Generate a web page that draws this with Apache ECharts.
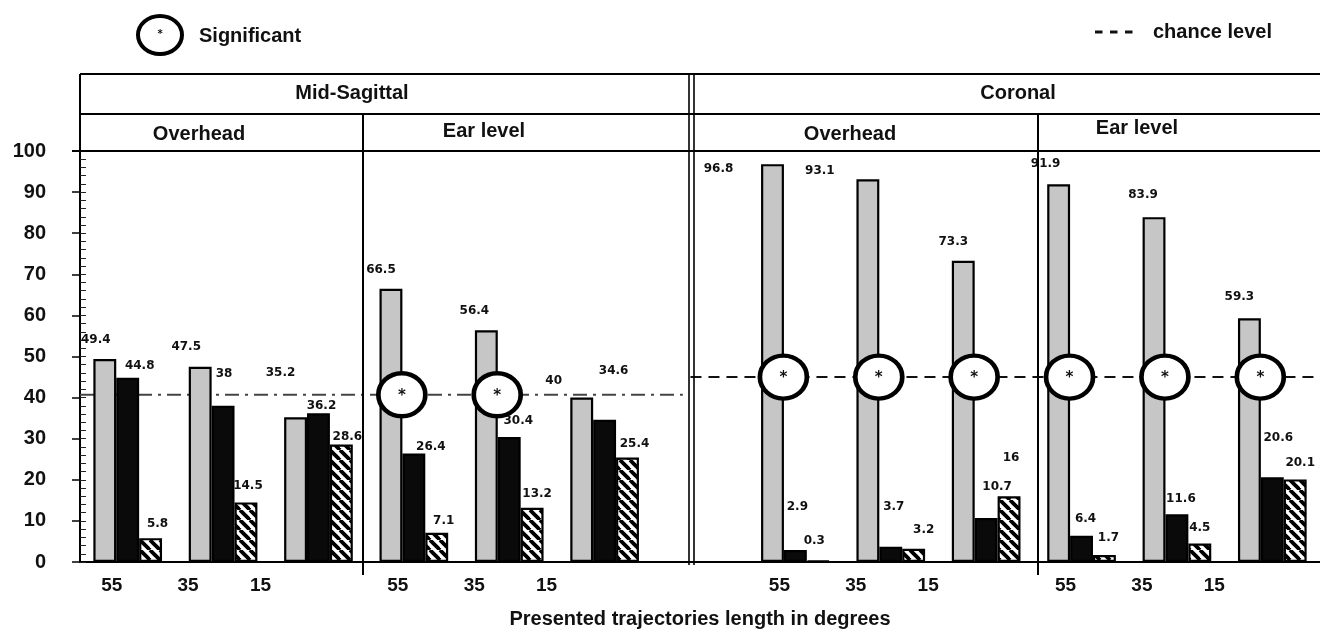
<!DOCTYPE html>
<html>
<head>
<meta charset="utf-8">
<script src="https://cdn.jsdelivr.net/npm/echarts@6/dist/echarts.min.js"></script>
<style>
  html, body { margin: 0; padding: 0; background: #fff; }
  #chart { width: 1320px; height: 634px; }
</style>
</head>
<body>
<div id="chart"></div>
<script>
// Trajectory lengths (degrees) shown under every panel
const lengths = ['55', '35', '15'];

// Mid-Sagittal plane, overhead / ear level
const msOverheadGrey  = [49.4, 47.5, 35.2];
const msOverheadBlack = [44.8, 38, 36.2];
const msOverheadHatch = [5.8, 14.5, 28.6];
const msEarGrey  = [66.5, 56.4, 40];
const msEarBlack = [26.4, 30.4, 34.6];
const msEarHatch = [7.1, 13.2, 25.4];

// Coronal plane, overhead / ear level
const corOverheadGrey  = [96.8, 93.1, 73.3];
const corOverheadBlack = [2.9, 3.7, 10.7];
const corOverheadHatch = [0.3, 3.2, 16];
const corEarGrey  = [91.9, 83.9, 59.3];
const corEarBlack = [6.4, 11.6, 20.6];
const corEarHatch = [1.7, 4.5, 20.1];

// Chance levels per plane
const chanceMidSagittal = 40.7;
const chanceCoronal = 45;

// Significance flags per panel (one per trajectory length)
const msOverheadSig  = [false, false, false];
const msEarSig       = [true, true, false];
const corOverheadSig = [true, true, true];
const corEarSig      = [true, true, true];

const yTicks = { min: 0, max: 100, step: 10 };

// ---- layout: 6 Mid-Sagittal slots, one spacer slot, 6 Coronal slots ----
const GAP = '-';
const join = (a, b, c, d) => [...a, ...b, GAP, ...c, ...d];
const greyData  = join(msOverheadGrey, msEarGrey, corOverheadGrey, corEarGrey);
const blackData = join(msOverheadBlack, msEarBlack, corOverheadBlack, corEarBlack);
const hatchData = join(msOverheadHatch, msEarHatch, corOverheadHatch, corEarHatch);

const categories = [];
['mso', 'mse'].forEach(p => lengths.forEach(l => categories.push(p + '|' + l)));
categories.push('gap|');
['coo', 'coe'].forEach(p => lengths.forEach(l => categories.push(p + '|' + l)));

const sigFlags = [...msOverheadSig, ...msEarSig, null, ...corOverheadSig, ...corEarSig];
const sigPoints = [];
sigFlags.forEach((f, i) => {
  if (f) sigPoints.push([i + 0.5, i < 6 ? chanceMidSagittal : chanceCoronal]);
});

// value-label nudges (label styling only)
const greyLabelShift  = [[-9,-13],[-14,-14],[-15,-38],[-10,-13],[-12,-13],[-28,-11],null,[-54,11],[-48,-2],[-10,-13],[-13,-14],[-11,-16],[-10,-15]];
const blackLabelShift = [[12,-6],[1,-26],[3,-1],[17,-1],[9,-10],[9,-43],null,[2,-37],[3,-34],[11,-25],[4,-11],[4,-9],[6,-33]];
const hatchLabelShift = [[7,-8],[2,-11],[6,-2],[7,-6],[5,-8],[7,-8],null,[-4,-13],[10,-13],[2,-32],[4,-11],[0,-10],[5,-11]];

// tick-label nudges for the length labels
const tickShift = { '55': 32, '35': 70, '15': 116 };

function hatchPattern() {
  const s = 10;
  const c = document.createElement('canvas');
  c.width = s; c.height = s;
  const g = c.getContext('2d');
  g.fillStyle = '#fff';
  g.fillRect(0, 0, s, s);
  g.strokeStyle = '#000';
  g.lineWidth = 3.8;
  for (const o of [-s, 0, s]) {
    g.beginPath();
    g.moveTo(o, 0);
    g.lineTo(o + s, s);
    g.stroke();
  }
  return c;
}

const valueLabel = {
  show: true,
  position: 'top',
  distance: 0,
  fontFamily: 'DejaVu Sans',
  fontWeight: 'bold',
  fontSize: 12,
  lineHeight: 12,
  color: '#111'
};

function barSeries(name, values, shifts, itemStyle) {
  return {
    name,
    type: 'bar',
    xAxisIndex: 0,
    yAxisIndex: 0,
    barGap: '0%',
    barCategoryGap: '28%',
    z: 3,
    itemStyle: Object.assign({ borderColor: '#000', borderWidth: 2.2 }, itemStyle),
    data: values.map((v, i) => v === GAP ? GAP : {
      value: v,
      label: Object.assign({}, valueLabel, { offset: shifts[i] || [0, 0] })
    }),
    label: valueLabel
  };
}

const BOLD = 'Liberation Sans, Arial, sans-serif';
const black = '#000';

const chart = echarts.init(document.getElementById('chart'), null, { renderer: 'canvas' });

const lineSeg = (x1, y1, x2, y2, w) => ({
  type: 'line', silent: true, z: 20,
  shape: { x1, y1, x2, y2 },
  style: { stroke: black, lineWidth: w || 2 }
});
const headText = (x, y, text, size) => ({
  type: 'text', silent: true, z: 21, x, y,
  style: {
    text, fill: '#111', font: 'bold ' + (size || 20) + 'px ' + BOLD,
    textAlign: 'center', textVerticalAlign: 'middle'
  }
});

const option = {
  animation: false,
  backgroundColor: '#fff',
  grid: { left: 80, right: -8, top: 151, bottom: 69, containLabel: false },
  xAxis: [
    {
      type: 'category',
      data: categories,
      boundaryGap: true,
      axisLine: { show: true, lineStyle: { color: black, width: 2 } },
      axisTick: { show: false },
      axisLabel: {
        interval: 0,
        hideOverlap: false,
        margin: 14,
        formatter: v => {
          const l = v.split('|')[1];
          return l ? '{t' + l + '|' + l + '}' : '';
        },
        rich: Object.fromEntries(lengths.map(l => ['t' + l, {
          fontFamily: BOLD, fontWeight: 'bold', fontSize: 19, color: '#111',
          padding: [0, tickShift[l], 0, 0]
        }]))
      },
      name: 'Presented trajectories length in degrees',
      nameLocation: 'middle',
      nameGap: 47,
      nameTextStyle: { fontFamily: BOLD, fontWeight: 'bold', fontSize: 20, color: '#111' }
    },
    { type: 'value', min: 0, max: categories.length, show: false }
  ],
  yAxis: [
    {
      type: 'value',
      min: yTicks.min, max: yTicks.max, interval: yTicks.step,
      axisLine: { show: true, lineStyle: { color: black, width: 2 } },
      axisTick: { show: true, length: 8, lineStyle: { color: black, width: 1.5 } },
      axisLabel: { margin: 34, fontFamily: BOLD, fontWeight: 'bold', fontSize: 20, color: '#111' },
      splitLine: { show: false }
    },
    {
      type: 'value',
      min: yTicks.min, max: yTicks.max, interval: 2,
      position: 'left',
      axisLine: { show: false },
      axisTick: { show: true, inside: true, length: 6, lineStyle: { color: '#222', width: 1 } },
      axisLabel: { show: false },
      splitLine: { show: false }
    }
  ],
  series: [
    barSeries('grey', greyData, greyLabelShift, { color: '#c6c6c6' }),
    barSeries('black', blackData, blackLabelShift, { color: '#0a0a0a' }),
    barSeries('hatched', hatchData, hatchLabelShift, { color: { image: hatchPattern(), repeat: 'repeat' } }),
    {
      name: 'chance level',
      type: 'line',
      xAxisIndex: 1, yAxisIndex: 0,
      z: 2, symbol: 'none', silent: true,
      lineStyle: { color: '#444', width: 2, type: [14, 6, 3, 6] },
      data: [[0, chanceMidSagittal], [6.32, chanceMidSagittal]]
    },
    {
      name: 'chance level coronal',
      type: 'line',
      xAxisIndex: 1, yAxisIndex: 0,
      z: 2, symbol: 'none', silent: true,
      lineStyle: { color: '#111', width: 2, type: [11, 7] },
      data: [[6.4, chanceCoronal], [categories.length, chanceCoronal]]
    },
    {
      name: 'Significant',
      type: 'scatter',
      xAxisIndex: 1, yAxisIndex: 0,
      z: 10, silent: true,
      symbol: 'circle',
      symbolSize: [47, 43],
      symbolOffset: [-12, 0],
      itemStyle: { color: '#fff', borderColor: black, borderWidth: 4.5, opacity: 1 },
      label: {
        show: true, position: 'inside', offset: [0, 1],
        formatter: '*', fontFamily: 'DejaVu Sans', fontWeight: 'bold', fontSize: 15, color: '#111'
      },
      data: sigPoints
    }
  ],
  graphic: [
    // header table
    lineSeg(80, 74, 1320, 74),
    lineSeg(80, 114, 1320, 114),
    lineSeg(72, 151, 1320, 151),
    lineSeg(80, 74, 80, 151),
    lineSeg(363, 114, 363, 575),
    lineSeg(689, 74, 689, 565, 1.6),
    lineSeg(694, 74, 694, 565, 1.6),
    lineSeg(1038, 114, 1038, 575),
    headText(352, 93, 'Mid-Sagittal'),
    headText(1018, 93, 'Coronal'),
    headText(199, 134, 'Overhead'),
    headText(484, 131, 'Ear level'),
    headText(850, 134, 'Overhead'),
    headText(1137, 128, 'Ear level'),
    // legend: significance marker
    {
      type: 'ellipse', silent: true, z: 21,
      shape: { cx: 160, cy: 35, rx: 22, ry: 19 },
      style: { fill: '#fff', stroke: black, lineWidth: 4 }
    },
    {
      type: 'text', silent: true, z: 22, x: 160, y: 34,
      style: { text: '*', font: 'bold 10px DejaVu Sans', fill: '#111', textAlign: 'center', textVerticalAlign: 'middle' }
    },
    {
      type: 'text', silent: true, z: 21, x: 199, y: 36,
      style: { text: 'Significant', font: 'bold 20px ' + BOLD, fill: '#111', textAlign: 'left', textVerticalAlign: 'middle' }
    },
    // legend: chance level
    {
      type: 'line', silent: true, z: 21,
      shape: { x1: 1095, y1: 32, x2: 1133, y2: 32 },
      style: { stroke: '#111', lineWidth: 3, lineDash: [7.5, 7.5] }
    },
    {
      type: 'text', silent: true, z: 21, x: 1153, y: 32,
      style: { text: 'chance level', font: 'bold 20px ' + BOLD, fill: '#111', textAlign: 'left', textVerticalAlign: 'middle' }
    }
  ]
};

chart.setOption(option);
</script>
</body>
</html>
